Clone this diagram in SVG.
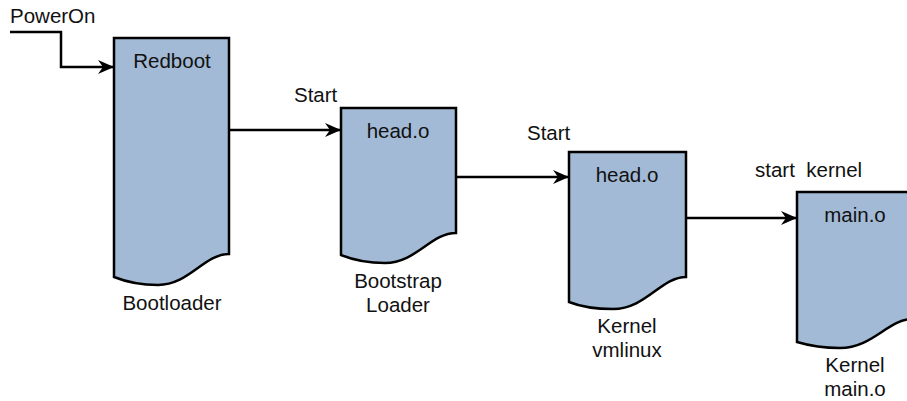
<svg xmlns="http://www.w3.org/2000/svg" width="907" height="401" viewBox="0 0 907 401">
<defs>
<style>
.doc{fill:#A2BAD5;stroke:#000;stroke-width:2.5;stroke-linejoin:miter}
.t{font-family:"Liberation Sans",Arial,sans-serif;font-size:20.5px;fill:#111}
.m{text-anchor:middle}
.c{fill:none;stroke:#000;stroke-width:2.5}
</style>
<marker id="ah" markerWidth="16" markerHeight="14" refX="15" refY="7" orient="auto" markerUnits="userSpaceOnUse">
<path d="M0,0 L16,7 L0,14 L5,7 Z" fill="#000"/>
</marker>
</defs>
<rect width="907" height="401" fill="#fff"/>
<g id="connectors">
<path class="c" d="M10,32 H61 V67 H113" marker-end="url(#ah)"/>
<path class="c" d="M229,130 H340" marker-end="url(#ah)"/>
<path class="c" d="M456,177 H568" marker-end="url(#ah)"/>
<path class="c" d="M686,218 H796" marker-end="url(#ah)"/>
</g>
<text class="t" x="10" y="23">PowerOn</text>
<text class="t" x="294" y="102">Start</text>
<text class="t" x="527" y="140">Start</text>
<text class="t" x="755" y="177" xml:space="preserve">start  kernel</text>
<g id="bootloader">
<path class="doc" d="M114,38 H229 V254 C204,254 189,285 158,285 C138,285 124,281 114,277 Z"/>
<text class="t m" x="172" y="68">Redboot</text>
<text class="t m" x="172" y="310">Bootloader</text>
</g>
<g id="bootstrap">
<path class="doc" d="M341,108 H456 V233 C431,233 416,263 385,263 C365,263 351,259 341,255 Z"/>
<text class="t m" x="398" y="138">head.o</text>
<text class="t m" x="398" y="288">Bootstrap</text>
<text class="t m" x="398" y="312">Loader</text>
</g>
<g id="vmlinux">
<path class="doc" d="M569,152 H686 V277 C661,277 646,309 613,309 C593,309 579,306 569,302 Z"/>
<text class="t m" x="627" y="182">head.o</text>
<text class="t m" x="627" y="333">Kernel</text>
<text class="t m" x="627" y="357">vmlinux</text>
</g>
<g id="main">
<path class="doc" d="M797,192 H913 V319 C888,319 873,348 840,348 C820,348 807,345 797,342 Z"/>
<text class="t m" x="855" y="222">main.o</text>
<text class="t m" x="855" y="372">Kernel</text>
<text class="t m" x="855" y="396">main.o</text>
</g>
</svg>
